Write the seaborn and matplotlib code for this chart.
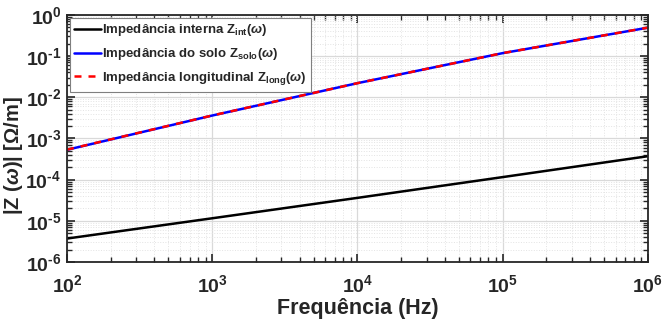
import numpy as np
import pandas as pd
import seaborn as sns
import matplotlib.pyplot as plt
from matplotlib.ticker import LogLocator, NullFormatter, FuncFormatter

freq = [1e2, 1e3, 1e4, 1e5, 1e6]
z_int = [3.7e-6, 1.15e-5, 3.6e-5, 1.15e-4, 3.7e-4]
z_solo = [5.3e-4, 3.6e-3, 2.2e-2, 1.18e-1, 4.9e-1]
z_long = [5.34e-4, 3.61e-3, 2.2e-2, 1.181e-1, 4.904e-1]

labels = [r'Impedância interna Z$_{\mathbf{int}}$($\omega$)',
          r'Impedância do solo Z$_{\mathbf{solo}}$($\omega$)',
          r'Impedância longitudinal Z$_{\mathbf{long}}$($\omega$)']

sns.set_style('ticks')
plt.rcParams['font.family'] = ['Liberation Sans', 'DejaVu Sans']
plt.rcParams['font.weight'] = 'bold'
plt.rcParams['mathtext.fontset'] = 'custom'
plt.rcParams['mathtext.rm'] = 'Liberation Sans:bold'
plt.rcParams['mathtext.bf'] = 'Liberation Sans:bold'
plt.rcParams['mathtext.it'] = 'Liberation Sans:italic'

df = pd.DataFrame({'f': freq * 3,
                   'z': z_int + z_solo + z_long,
                   'serie': [labels[0]] * 5 + [labels[1]] * 5 + [labels[2]] * 5})

fig = plt.figure(figsize=(6.63, 3.25), dpi=100)
ax = fig.add_axes([0.101, 0.194, 0.876, 0.760])

sns.lineplot(data=df[df.serie == labels[0]], x='f', y='z', color='black', lw=1.8, label=labels[0], ax=ax)
sns.lineplot(data=df[df.serie == labels[1]], x='f', y='z', color='blue', lw=1.8, label=labels[1], ax=ax)
sns.lineplot(data=df[df.serie == labels[2]], x='f', y='z', color='red', lw=1.8, ls=(0, (2.8, 2.8)), label=labels[2], ax=ax)

ax.set_xscale('log')
ax.set_yscale('log')
ax.set_xlim(1e2, 1e6)
ax.set_ylim(1e-6, 1e0)


def pot10(v, pos):
    e = int(round(np.log10(v)))
    return r'$\mathdefault{10^{\text{%d}}}$' % e


ax.xaxis.set_major_locator(LogLocator(base=10, numticks=10))
ax.yaxis.set_major_locator(LogLocator(base=10, numticks=10))
ax.xaxis.set_major_formatter(FuncFormatter(pot10))
ax.yaxis.set_major_formatter(FuncFormatter(pot10))
ax.xaxis.set_minor_locator(LogLocator(base=10, subs=np.arange(2, 10), numticks=20))
ax.yaxis.set_minor_locator(LogLocator(base=10, subs=np.arange(2, 10), numticks=20))
ax.xaxis.set_minor_formatter(NullFormatter())
ax.yaxis.set_minor_formatter(NullFormatter())

ax.grid(True, which='major', color='#d9d9d9', lw=0.9, ls='-')
ax.grid(True, which='minor', color='#e3e3e3', lw=0.7, ls=':')
ax.set_axisbelow(True)

ax.tick_params(which='both', direction='in', top=True, right=True, colors='#262626')
ax.tick_params(which='major', length=6, width=1.2, labelsize=14)
ax.tick_params(axis='x', which='major', pad=9)
ax.tick_params(axis='y', which='major', pad=4)
ax.tick_params(which='minor', length=3.5, width=1.0)
for sp in ax.spines.values():
    sp.set_color('#262626')
    sp.set_linewidth(1.3)

ax.set_xlabel('Frequência (Hz)', fontsize=15.5, fontweight='bold', color='#262626')
ax.set_ylabel(r'|Z ($\omega$)| [$\Omega$/m]', fontsize=14.5, fontweight='bold', color='#262626')
ax.xaxis.set_label_coords(0.5, -0.145)
ax.yaxis.set_label_coords(-0.072, 0.43)

leg = ax.legend(loc='upper left', prop={'weight': 'bold', 'size': 9.5},
                handlelength=2.0, handletextpad=0.1, borderaxespad=0.2,
                borderpad=0.35, labelspacing=0.6, fancybox=False, framealpha=1)
leg.get_frame().set_edgecolor('#7f7f7f')
leg.get_frame().set_linewidth(0.8)

fig.savefig('out.png', dpi=100)
